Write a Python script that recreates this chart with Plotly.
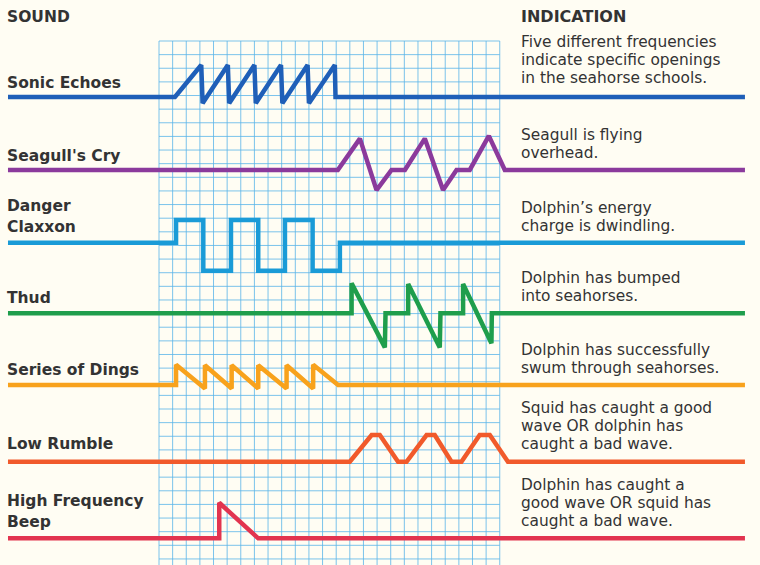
import plotly.graph_objects as go

W, H = 760, 565
CELL = 13.63          # grid cell size in px
GX0, GY0 = 159, 41    # top-left of grid in px
NCOLS, NROWS = 25, 39

# ---- data (x in grid columns, y in grid rows above each baseline) ----
X_START, X_END = -11.08, 42.99

sonic_x = [X_START, 1.17, 3.1, 3.2, 5.05, 5.15, 7.0, 7.1, 8.95, 9.05, 10.9, 11.0, 12.9, 12.95, X_END]
sonic_y = [0, 0, 2.35, -0.45, 2.35, -0.45, 2.35, -0.45, 2.35, -0.45, 2.35, -0.45, 2.35, 0, 0]

seagull_x = [X_START, 13.12, 14.74, 15.96, 17.06, 18.04, 19.5, 20.84, 21.83, 22.8, 24.2, 25.37, X_END]
seagull_y = [0, 0, 2.3, -1.48, 0, 0, 2.3, -1.48, 0, 0, 2.5, 0, 0]

danger_x = [X_START, 1.25, 1.25, 3.25, 3.25, 5.28, 5.28, 7.28, 7.28, 9.24, 9.24, 11.27, 11.27, 13.27, 13.27, X_END]
danger_y = [0, 0, 1.67, 1.67, -2.05, -2.05, 1.67, 1.67, -2.05, -2.05, 1.67, 1.67, -2.05, -2.05, 0, 0]

thud_x = [X_START, 14.13, 14.13, 16.57, 16.62, 18.28, 18.28, 20.6, 20.65, 22.31, 22.31, 24.39, 24.42, X_END]
thud_y = [0, 0, 2.2, -2.5, 0, 0, 2.15, -2.5, 0, 0, 2.15, -2.2, 0, 0]

dings_x = [X_START, 1.25, 1.25, 3.37, 3.37, 5.33, 5.33, 7.28, 7.28, 9.36, 9.36, 11.31, 11.31, 13.14, X_END]
dings_y = [0, 0, 1.48, -0.25, 1.45, -0.25, 1.45, -0.25, 1.45, -0.25, 1.45, -0.25, 1.48, 0, 0]

rumble_x = [X_START, 14.0, 15.6, 16.2, 17.54, 18.16, 19.63, 20.23, 21.46, 22.19, 23.53, 24.27, 25.6, X_END]
rumble_y = [0, 0, 1.96, 1.96, 0, 0, 1.96, 1.96, 0, 0, 1.96, 1.96, 0, 0]

beep_x = [X_START, 4.42, 4.42, 7.28, X_END]
beep_y = [0, 0, 2.61, 0, 0]

sound_names = ["Sonic Echoes", "Seagull's Cry", "Danger<br>Claxxon", "Thud",
               "Series of Dings", "Low Rumble", "High Frequency<br>Beep"]
indications = [
    ["Five different frequencies", "indicate specific openings", "in the seahorse schools."],
    ["Seagull is flying", "overhead."],
    ["Dolphin\u2019s energy", "charge is dwindling."],
    ["Dolphin has bumped", "into seahorses."],
    ["Dolphin has successfully", "swum through seahorses."],
    ["Squid has caught a good", "wave OR dolphin has", "caught a bad wave."],
    ["Dolphin has caught a", "good wave OR squid has", "caught a bad wave."],
]
baselines = [4.11, 9.46, 14.8, 19.98, 25.24, 30.87, 36.49]
colors = ["#1f5fb8", "#8b3a9c", "#1a9bd7", "#1f9e4c", "#f8a21c", "#f15a2b", "#e2344f"]
series = [(sonic_x, sonic_y), (seagull_x, seagull_y), (danger_x, danger_y), (thud_x, thud_y),
          (dings_x, dings_y), (rumble_x, rumble_y), (beep_x, beep_y)]

# layout positions (px)
label_y = [[83], [156], [206, 227], [298], [370], [444], [501, 522]]
ind_first = [42, 135, 208, 278, 350, 408, 485]
LINE_STEP = 18.2

fig = go.Figure()

# grid
shapes = []
gcol = "rgba(90,180,232,0.8)"
for c in range(NCOLS + 1):
    shapes.append(dict(type="line", xref="x", yref="y", x0=c, x1=c, y0=0, y1=NROWS,
                       line=dict(color=gcol, width=1), layer="below"))
for r in range(NROWS + 1):
    shapes.append(dict(type="line", xref="x", yref="y", x0=0, x1=NCOLS, y0=r, y1=r,
                       line=dict(color=gcol, width=1), layer="below"))

for (xs, ys), b, col, name in zip(series, baselines, colors, sound_names):
    fig.add_trace(go.Scatter(x=xs, y=[b - v for v in ys], mode="lines",
                             line=dict(color=col, width=4.5), name=name.replace("<br>", " "),
                             hoverinfo="skip"))

ann = []
def add_text(txt, px, py, size, bold=False, family="DejaVu Sans"):
    ann.append(dict(text=("<b>%s</b>" % txt) if bold else txt, x=px / W, y=1 - py / H,
                    xref="paper", yref="paper", xanchor="left", yanchor="middle",
                    showarrow=False, borderpad=0,
                    font=dict(family=family, size=size, color="#333333")))

add_text("SOUND", 6, 17, 15.5, bold=True)
add_text("INDICATION", 520, 16, 16, bold=True)
for name, ys in zip(sound_names, label_y):
    for part, py in zip(name.split("<br>"), ys):
        add_text(part, 6, py, 15.5, bold=True)
for lines, y0 in zip(indications, ind_first):
    for i, line in enumerate(lines):
        add_text(line, 520, y0 + i * LINE_STEP, 15.4)

fig.update_layout(
    width=W, height=H, margin=dict(l=0, r=0, t=0, b=0),
    paper_bgcolor="#fffdf3", plot_bgcolor="#fffdf3",
    showlegend=False, shapes=shapes, annotations=ann,
    xaxis=dict(range=[-GX0 / CELL, (W - GX0) / CELL], visible=False, fixedrange=True),
    yaxis=dict(range=[(H - GY0) / CELL, -GY0 / CELL], visible=False, fixedrange=True),
)
fig.write_html("out.html", config={"displayModeBar": False},
               post_script="document.body.style.margin='0';document.body.style.overflow='hidden';")
